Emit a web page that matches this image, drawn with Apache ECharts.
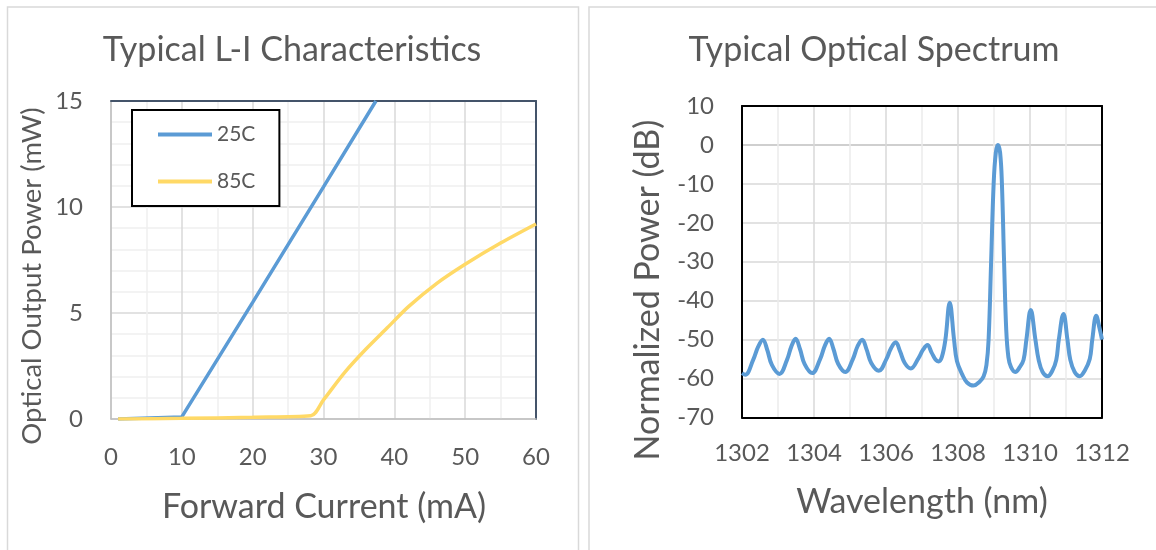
<!DOCTYPE html>
<html lang="en">
<head>
    <meta charset="UTF-8">
    <title>L-I and spectrum</title>
    <style type="text/css">
        * { margin: 0; padding: 0; }
        html, body { width: 100%; height: 100%; background: #fff; }
        #chart-panel { width: 1156px; height: 550px; }
    </style>
</head>
<body>
<div id="chart-panel"></div>
<script src="https://cdn.jsdelivr.net/npm/echarts@6/dist/echarts.min.js"></script>
<script>
    // L-I curves
    let current25 = [1, 10, 20, 30, 37.4];
    let power25 = [0, 0.1, 5.5, 10.95, 15];
    let current85 = [1, 10, 20, 28.2, 30, 33, 36, 39, 42, 46, 50, 55, 60];
    let power85 = [0, 0.03, 0.08, 0.15, 0.9, 2.2, 3.3, 4.3, 5.3, 6.4, 7.3, 8.3, 9.2];
    let currentTicks = [0, 10, 20, 30, 40, 50, 60];
    let powerTicks = [0, 5, 10, 15];

    // optical spectrum
    let wavelengthNm = [
        1302.00, 1302.09, 1302.31, 1302.45, 1302.58, 1302.70, 1302.83,
        1303.04, 1303.25, 1303.37, 1303.49, 1303.61, 1303.74,
        1303.95, 1304.17, 1304.30, 1304.42, 1304.54, 1304.67,
        1304.87, 1305.08, 1305.21, 1305.34, 1305.46, 1305.59,
        1305.80, 1306.01, 1306.14, 1306.27, 1306.39, 1306.52,
        1306.69, 1306.90, 1307.03, 1307.15, 1307.27, 1307.38,
        1307.46, 1307.55, 1307.65, 1307.77, 1307.89, 1307.97,
        1308.12, 1308.25, 1308.43, 1308.60, 1308.71, 1308.79,
        1308.85, 1308.92, 1308.99, 1309.05, 1309.11, 1309.17, 1309.22,
        1309.28, 1309.34, 1309.40, 1309.47, 1309.59, 1309.72, 1309.82,
        1309.90, 1310.02, 1310.15, 1310.24, 1310.35, 1310.49,
        1310.62, 1310.73, 1310.80, 1310.93, 1311.04, 1311.12, 1311.24,
        1311.38, 1311.52, 1311.66, 1311.73, 1311.84, 1311.93, 1312.00
    ];
    let powerDb = [
        -58.6, -59.0, -55.2, -51.8, -50.0, -52.6, -56.5,
        -58.8, -55.2, -51.8, -49.8, -52.4, -56.3,
        -58.6, -55.0, -51.6, -49.8, -52.4, -56.2,
        -58.3, -55.0, -51.7, -50.0, -52.5, -56.0,
        -58.0, -55.0, -52.2, -50.7, -53.0, -56.0,
        -57.4, -54.8, -52.6, -51.4, -53.4, -55.2,
        -55.6, -54.5, -50.0, -40.5, -50.0, -55.5,
        -59.0, -61.0, -61.8, -60.8, -59.5, -56.5,
        -50.0, -30.0, -10.0, -2.0, 0.0, -2.0, -10.0,
        -30.0, -47.5, -54.5, -57.0, -58.3, -57.0, -55.2,
        -50.0, -42.4, -50.0, -55.2, -58.3, -59.4,
        -58.0, -55.2, -50.0, -43.4, -50.0, -55.2, -58.3,
        -59.4, -58.0, -55.0, -50.0, -43.9, -47.0, -50.0
    ];
    let wavelengthTicks = [1302, 1304, 1306, 1308, 1310, 1312];
    let dbTicks = [-70, -60, -50, -40, -30, -20, -10, 0, 10];

    const zip = (xs, ys) => xs.map((x, i) => [x, ys[i]]);

    var myChart = echarts.init(document.getElementById('chart-panel'));
    let textColor = '#595959';
    let font = 'Lato';

    // extra axes only used to draw the top/right edges of a plot frame
    const frameAxis = (grid, pos, min, max, color, width) => ({
        type: 'value',
        gridIndex: grid,
        position: pos,
        min: min,
        max: max,
        axisLine: { show: true, onZero: false, lineStyle: { color: color, width: width } },
        axisTick: { show: false },
        axisLabel: { show: false },
        splitLine: { show: false }
    });

    var option = {
        animation: false,
        textStyle: { fontFamily: font },
        legend: {
            data: ['25C', '85C'],
            orient: 'vertical',
            left: 132,
            top: 110,
            padding: [14, 24, 14, 26],
            icon: 'rect',
            itemWidth: 54,
            itemHeight: 4,
            itemGap: 26,
            backgroundColor: '#fff',
            borderColor: '#000',
            borderWidth: 2,
            borderRadius: 0,
            textStyle: { color: textColor, fontSize: 21, fontFamily: font }
        },
        grid: [
            { left: 111, top: 101, width: 425, height: 318 },
            { left: 742, top: 106, width: 360, height: 311.5 }
        ],
        xAxis: [
            {
                type: 'value',
                gridIndex: 0,
                min: currentTicks[0],
                max: currentTicks[currentTicks.length - 1],
                interval: 10,
                axisLine: { show: true, onZero: false, lineStyle: { color: '#bfbfbf', width: 1.5 } },
                axisTick: { show: false },
                axisLabel: { color: textColor, fontSize: 24, fontFamily: font, margin: 26 },
                splitLine: { lineStyle: { color: '#d9d9d9', width: 1.5 } },
                minorTick: { show: false, splitNumber: 2 },
                minorSplitLine: { show: true, lineStyle: { color: '#f0f0f0', width: 1.5 } }
            },
            frameAxis(0, 'top', 0, 60, '#44546a', 2),
            {
                type: 'value',
                gridIndex: 1,
                min: wavelengthTicks[0],
                max: wavelengthTicks[wavelengthTicks.length - 1],
                interval: 2,
                axisLine: { show: true, onZero: false, lineStyle: { color: '#000', width: 2 } },
                axisTick: { show: false },
                axisLabel: { color: textColor, fontSize: 24, fontFamily: font, margin: 24, formatter: v => String(v) },
                splitLine: { lineStyle: { color: '#d9d9d9', width: 1.5 } },
                minorTick: { show: false, splitNumber: 2 },
                minorSplitLine: { show: true, lineStyle: { color: '#ececec', width: 1.5 } }
            },
            frameAxis(1, 'top', 1302, 1312, '#000', 2)
        ],
        yAxis: [
            {
                type: 'value',
                gridIndex: 0,
                min: powerTicks[0],
                max: powerTicks[powerTicks.length - 1],
                interval: 5,
                axisLine: { show: true, onZero: false, lineStyle: { color: '#bfbfbf', width: 1.5 } },
                axisTick: { show: false },
                axisLabel: { color: textColor, fontSize: 24, fontFamily: font, margin: 28 },
                splitLine: { lineStyle: { color: '#d9d9d9', width: 1.5 } },
                minorTick: { show: false, splitNumber: 5 },
                minorSplitLine: { show: true, lineStyle: { color: '#f0f0f0', width: 1.5 } }
            },
            frameAxis(0, 'right', 0, 15, '#44546a', 2),
            {
                type: 'value',
                gridIndex: 1,
                min: dbTicks[0],
                max: dbTicks[dbTicks.length - 1],
                interval: 10,
                axisLine: { show: true, onZero: false, lineStyle: { color: '#000', width: 2 } },
                axisTick: { show: false },
                axisLabel: { color: textColor, fontSize: 24, fontFamily: font, margin: 28 },
                splitLine: {
                    lineStyle: {
                        // zero line is darker, like the category axis crossing
                        color: ['#d9d9d9', '#d9d9d9', '#d9d9d9', '#d9d9d9', '#d9d9d9', '#d9d9d9', '#d9d9d9', '#bfbfbf', '#d9d9d9'],
                        width: 1.5
                    }
                }
            },
            frameAxis(1, 'right', -70, 10, '#000', 2)
        ],
        graphic: [
            { type: 'rect', shape: { x: 7.5, y: 7, width: 571, height: 560 }, style: { fill: 'none', stroke: '#d9d9d9', lineWidth: 1.5 }, z: -10 },
            { type: 'rect', shape: { x: 589, y: 7, width: 580, height: 560 }, style: { fill: 'none', stroke: '#d9d9d9', lineWidth: 1.5 }, z: -10 },
            { type: 'text', x: 292, y: 50, style: { text: 'Typical L-I Characteristics', fontSize: 34, fontFamily: font, fill: textColor, align: 'center', verticalAlign: 'middle' } },
            { type: 'text', x: 874, y: 50, style: { text: 'Typical Optical Spectrum', fontSize: 34, fontFamily: font, fill: textColor, align: 'center', verticalAlign: 'middle' } },
            { type: 'text', x: 324, y: 507, style: { text: 'Forward Current (mA)', fontSize: 34, fontFamily: font, fill: textColor, align: 'center', verticalAlign: 'middle' } },
            { type: 'text', x: 922, y: 502, style: { text: 'Wavelength (nm)', fontSize: 34, fontFamily: font, fill: textColor, align: 'center', verticalAlign: 'middle' } },
            { type: 'text', x: 32, y: 276, rotation: Math.PI / 2, style: { text: 'Optical Output Power (mW)', fontSize: 27.5, fontFamily: font, fill: textColor, align: 'center', verticalAlign: 'middle' } },
            { type: 'text', x: 648, y: 290, rotation: Math.PI / 2, style: { text: 'Normalized Power (dB)', fontSize: 34, fontFamily: font, fill: textColor, align: 'center', verticalAlign: 'middle' } }
        ],
        series: [
            {
                name: '25C',
                type: 'line',
                xAxisIndex: 0,
                yAxisIndex: 0,
                symbol: 'none',
                lineStyle: { color: '#5b9bd5', width: 3.5 },
                itemStyle: { color: '#5b9bd5' },
                data: zip(current25, power25)
            },
            {
                name: '85C',
                type: 'line',
                xAxisIndex: 0,
                yAxisIndex: 0,
                symbol: 'none',
                smooth: 0.3,
                lineStyle: { color: '#ffd966', width: 3.5 },
                itemStyle: { color: '#ffd966' },
                data: zip(current85, power85)
            },
            {
                name: 'spectrum',
                type: 'line',
                xAxisIndex: 2,
                yAxisIndex: 2,
                symbol: 'none',
                smooth: 0.4,
                lineStyle: { color: '#5b9bd5', width: 4 },
                itemStyle: { color: '#5b9bd5' },
                data: zip(wavelengthNm, powerDb)
            }
        ]
    };
    myChart.setOption(option);
    window.onresize = () => {
        myChart.resize();
    }
</script>
</body>
</html>
